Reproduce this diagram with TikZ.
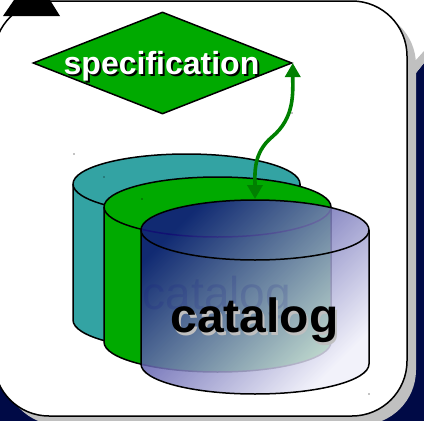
\documentclass[tikz,border=0pt]{standalone}
\usepackage{fontspec}
\setmainfont{Liberation Sans}
\usetikzlibrary{shapes.geometric, arrows.meta}
\definecolor{navyback}{RGB}{0,10,70}
\definecolor{panelgray}{RGB}{192,192,192}
\definecolor{specgreen}{RGB}{0,170,0}
\definecolor{linkgreen}{RGB}{0,128,0}
\definecolor{tealdisk}{RGB}{51,163,163}
\definecolor{drumblue}{RGB}{20,20,135}
\definecolor{drummid}{RGB}{115,115,190}
\definecolor{drumpale}{RGB}{240,240,250}
\tikzstyle{panel} = [rounded corners=55pt, line width=1.5pt]
\tikzstyle{disk} = [draw=black, line width=1.5pt, line join=round]
\tikzstyle{spec} = [diamond, draw=black, fill=specgreen, line width=1.5pt, minimum width=259pt, minimum height=102pt, aspect=2.54, inner sep=0pt]
\tikzstyle{biglabel} = [inner sep=0pt, font=\fontsize{48}{50}\selectfont\bfseries]
\tikzstyle{speclabel} = [inner sep=0pt, font=\fontsize{32}{36}\selectfont\bfseries]
\tikzstyle{link} = [line width=3.6pt, linkgreen, {Triangle[width=15pt,length=14pt]}-{Triangle[width=15pt,length=14pt]}]
\newcommand{\drum}[4]{% left x, right x, side top y, side bottom y
  (#1,#3) arc[start angle=180, end angle=360, x radius=(#2-#1)/2, y radius=30] -- (#2,#4)
  arc[start angle=0, end angle=180, x radius=(#2-#1)/2, y radius=30] -- cycle}
\begin{document}
\begin{tikzpicture}[x=1pt, y=-1pt]
    \useasboundingbox (0,0) rectangle (424,421);
    % backdrop
    \fill[navyback] (0,340) -- (0,421) -- (424,421) -- (424,63) -- (416,73) -- (416,340) -- cycle;
    \begin{scope}
        \clip (0,0) rectangle (424,421);
        \fill[panelgray] (416,60) -- (424,51) -- (424,63) -- (416,73) -- cycle;
        \fill[panelgray, rounded corners=55pt] (4,10) rectangle (416,425);
        \draw[panel, fill=white] (-6,1) rectangle (407,416);
    \end{scope}
    \fill[black] (3,16) -- (14,0) -- (50,0) -- (60,16) -- cycle;

    % the three catalog drums
    \filldraw[disk, fill=tealdisk] \drum{73}{300}{184}{320};
    \draw[disk] (73,184) arc[start angle=180, end angle=0, x radius=113.5, y radius=30];
    \filldraw[disk, fill=specgreen] \drum{104}{331}{207}{342};
    \draw[disk] (104,207) arc[start angle=180, end angle=0, x radius=113.5, y radius=30];

    \node (spec) [spec] at (162.5,63) {};
    \node (specshadow) [speclabel, black] at (163.5,68.5) {specification};
    \node (speclabel) [speclabel, white] at (161.5,66.5) {specification};

    \coordinate (catalogtop) at (255,199);
    \coordinate (bend) at (272,137);
    \draw[link] (spec.east) to[out=-90, in=40] (bend) to[out=-140, in=90] (catalogtop);

    \shade[left color=drumblue, middle color=drummid, right color=drumpale, shading angle=45, fill opacity=.85] \drum{141}{369}{230}{364};
    \draw[disk] \drum{141}{369}{230}{364};
    \draw[disk] (141,230) arc[start angle=180, end angle=0, x radius=114, y radius=30];

    \node (ghostlabel) [inner sep=0pt, font=\fontsize{46}{50}\selectfont, text=drumblue, text opacity=.14] at (217,298) {catalog};
    \node (catalogshadow) [biglabel, black!25] at (256.5,323) {catalog};
    \node (cataloglabel) [biglabel, black] at (254.5,320) {catalog};

    \foreach \x/\y in {74/154, 104/177, 142/199, 292/113, 369/394}
        \fill[black] (\x,\y) circle (.7pt);
\end{tikzpicture}
\end{document}
